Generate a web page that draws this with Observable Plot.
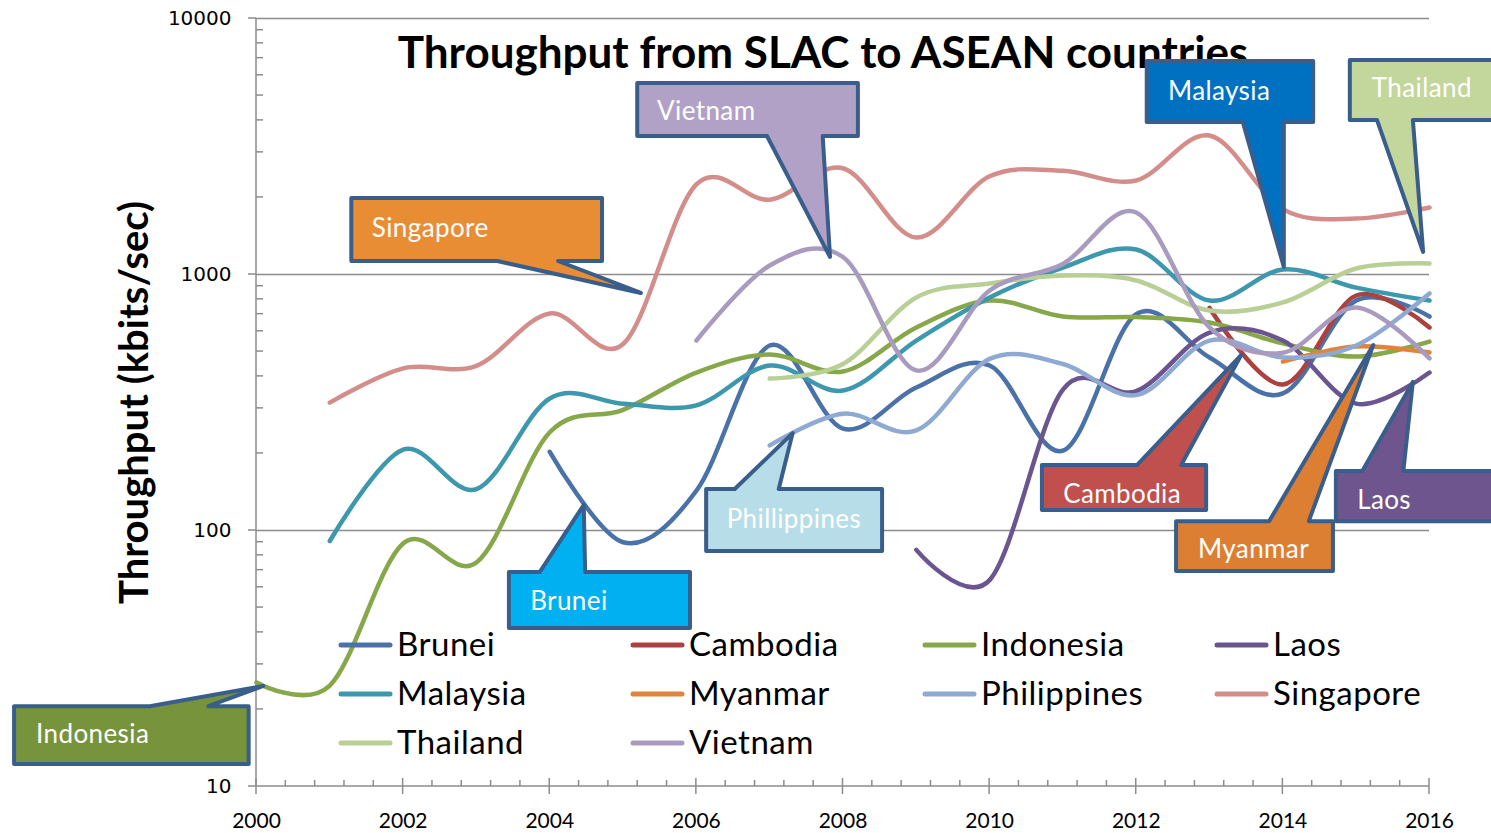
<!DOCTYPE html>
<html>
<head>
<meta charset="utf-8">
<script src="https://cdn.jsdelivr.net/npm/d3@7"></script>
<script src="https://cdn.jsdelivr.net/npm/@observablehq/plot@0.6"></script>
<style>
html, body { margin: 0; padding: 0; background: #fff; overflow: hidden; }
#chart { width: 1491px; height: 833px; }
</style>
</head>
<body>
<div id="chart"></div>
<script>
// ---------- data ----------
const years = d3.range(2000, 2017);
const countries = ["Brunei", "Cambodia", "Indonesia", "Laos", "Malaysia", "Myanmar", "Philippines", "Singapore", "Thailand", "Vietnam"];
const colors = ["#4A72A8", "#AC423F", "#87A84A", "#6B5590", "#3D98AE", "#E0843A", "#8FAAD2", "#D38E8C", "#B8CF95", "#A99BC0"];

// throughput (kbits/sec), one value per year 2000..2016, null = no data
const brunei      = [null, null, null, null, 203, 90, 143, 528, 250, 362, 441, 205, 700, 474, 343, 791, 685];
const cambodia    = [null, null, null, null, null, null, null, null, null, null, null, null, null, 740, 372, 828, 621];
const indonesia   = [25.5, 24.8, 89, 75, 242, 296, 414, 487, 418, 621, 791, 685, 682, 649, 538, 478, 547];
const laos        = [null, null, null, null, null, null, null, null, null, 84, 64, 355, 350, 593, 552, 313, 414];
const malaysia    = [null, 91, 207, 145, 328, 313, 308, 441, 352, 552, 813, 1065, 1252, 791, 1046, 889, 791];
const myanmar     = [null, null, null, null, null, null, null, null, null, null, null, null, null, null, 457, 523, 496];
const philippines = [null, null, null, null, null, null, null, 215, 286, 246, 468, 447, 338, 552, 474, 528, 843];
const singapore   = [null, 316, 430, 440, 704, 535, 2250, 1960, 2600, 1395, 2420, 2540, 2330, 3490, 1800, 1655, 1827];
const thailand    = [null, null, null, null, null, null, null, 392, 447, 813, 923, 991, 948, 723, 778, 1055, 1104];
const vietnam     = [null, null, null, null, null, null, 552, 1084, 1170, 422, 866, 1100, 1746, 621, 495, 743, 470];

const series = [brunei, cambodia, indonesia, laos, malaysia, myanmar, philippines, singapore, thailand, vietnam];

const xTicks = d3.range(2000, 2017, 2);
const yTicks = [10, 100, 1000, 10000];
const gridValues = [100, 1000, 10000];

const titleText = "Throughput from SLAC to ASEAN countries";
const yLabelText = "Throughput (kbits/sec)";

// call-out annotations, in data coordinates (year, kbits/sec)
const callouts = [
  {label: "Singapore",    fill: "#E98D35", box: [2001.30, 2004.72, 1980, 1124], side: "bottom", base: [2003.29, 2004.12], tip: [2005.25, 843],  text: [2001.58, 1395]},
  {label: "Vietnam",      fill: "#B2A1C7", box: [2005.20, 2008.21, 5570, 3460], side: "bottom", base: [2006.97, 2007.73], tip: [2007.83, 1165], text: [2005.47, 4000]},
  {label: "Malaysia",     fill: "#0070C0", box: [2012.15, 2014.42, 6790, 3925], side: "bottom", base: [2013.46, 2014.02], tip: [2014.02, 1065], text: [2012.44, 4783]},
  {label: "Thailand",     fill: "#C3D69B", box: [2014.92, 2016.97, 6855, 3998], side: "bottom", base: [2015.29, 2015.78], tip: [2015.92, 1219], text: [2015.22, 4910]},
  {label: "Brunei",       fill: "#00B0F0", box: [2003.45, 2005.92, 68.5, 41.4], side: "top",    base: [2003.87, 2004.49], tip: [2004.47, 125.2], text: [2003.74, 48.7]},
  {label: "Phillippines", fill: "#B7DDE8", box: [2006.14, 2008.54, 144.6, 82.8], side: "top",   base: [2006.53, 2007.13], tip: [2007.32, 239],  text: [2006.42, 101.8]},
  {label: "Cambodia",     fill: "#C0504D", box: [2010.72, 2012.96, 179.5, 119.7], side: "top",  base: [2012.02, 2012.62], tip: [2013.44, 483],  text: [2011.01, 127.5]},
  {label: "Myanmar",      fill: "#DD7F33", box: [2012.55, 2014.69, 108.3, 69.2], side: "top",   base: [2013.82, 2014.36], tip: [2015.24, 528],  text: [2012.85, 77.8]},
  {label: "Laos",         fill: "#6E558E", box: [2014.73, 2016.97, 170, 108.3], side: "top",    base: [2015.09, 2015.65], tip: [2015.78, 379],  text: [2015.02, 120.8]},
  {label: "Indonesia",    fill: "#77933C", box: [1996.70, 1999.90, 20.5, 12.2], side: "top",    base: [1998.55, 1999.35], tip: [2000.10, 24.6], text: [1997.00, 14.7]}
];

// ---------- table ----------
const table = [];
series.forEach((vals, si) => vals.forEach((v, yi) => {
  if (v != null) table.push({country: countries[si], year: years[yi], value: v});
}));

const AXIS = "#8C8C8C";
const FONT = "Lato, 'Open Sans', sans-serif";

// ---------- custom marks ----------
function axisTicks(index, {x, y}) {
  const g = d3.create("svg:g").attr("stroke", AXIS).attr("stroke-width", 1.5).attr("fill", "none");
  const y0 = y(10), x0 = x(2000);
  g.append("line").attr("x1", x0).attr("x2", x0).attr("y1", y(10000)).attr("y2", y0);
  g.append("line").attr("x1", x0).attr("x2", x(2016)).attr("y1", y0).attr("y2", y0);
  for (const yr of xTicks) {
    g.append("line").attr("x1", x(yr)).attr("x2", x(yr)).attr("y1", y0 - 8).attr("y2", y0 + 8);
  }
  for (let i = 1; i < 40; i++) {
    if (i % 5 === 0) continue;
    const yr = 2000 + i * 0.4;
    g.append("line").attr("x1", x(yr)).attr("x2", x(yr)).attr("y1", y0 - 6).attr("y2", y0);
  }
  for (const v of yTicks) {
    g.append("line").attr("x1", x0 - 8).attr("x2", x0).attr("y1", y(v)).attr("y2", y(v));
  }
  for (const d of [10, 100, 1000]) {
    for (let k = 2; k <= 9; k++) {
      g.append("line").attr("x1", x0).attr("x2", x0 + 7).attr("y1", y(d * k)).attr("y2", y(d * k));
    }
  }
  return g.node();
}

function legendMark() {
  const g = d3.create("svg:g").attr("text-anchor", "start");
  const colX = [339, 631, 923, 1215];
  const rowY = [645, 694, 743];
  countries.forEach((c, i) => {
    const cx = colX[i % 4], cy = rowY[Math.floor(i / 4)];
    g.append("line").attr("x1", cx + 2).attr("x2", cx + 51).attr("y1", cy).attr("y2", cy)
      .attr("stroke", colors[i]).attr("stroke-width", 5).attr("stroke-linecap", "round");
    g.append("text").attr("x", cx + 58).attr("y", cy + 11).attr("text-anchor", "start")
      .attr("font-family", FONT).attr("font-size", 33).attr("letter-spacing", "0.5px")
      .attr("fill", "#000").text(c);
  });
  return g.node();
}

function calloutMark(index, {x, y}) {
  const g = d3.create("svg:g").attr("text-anchor", "start");
  for (const c of callouts) {
    const xL = x(c.box[0]), xR = x(c.box[1]), yT = y(c.box[2]), yB = y(c.box[3]);
    const b0 = x(c.base[0]), b1 = x(c.base[1]);
    const tx = x(c.tip[0]), ty = y(c.tip[1]);
    let d;
    if (c.side === "bottom") {
      d = `M${xL},${yT}H${xR}V${yB}H${b1}L${tx},${ty}L${b0},${yB}H${xL}Z`;
    } else {
      d = `M${xL},${yT}H${b0}L${tx},${ty}L${b1},${yT}H${xR}V${yB}H${xL}Z`;
    }
    g.append("path").attr("d", d).attr("fill", c.fill)
      .attr("stroke", "#3A5E8C").attr("stroke-width", 4).attr("stroke-linejoin", "round");
    g.append("text").attr("x", x(c.text[0])).attr("y", y(c.text[1])).attr("text-anchor", "start")
      .attr("font-family", FONT).attr("font-size", 26).attr("letter-spacing", "0.4px")
      .attr("fill", "#fff").text(c.label);
  }
  return g.node();
}

// ---------- plot ----------
const chart = Plot.plot({
  width: 1491,
  height: 833,
  marginLeft: 256,
  marginRight: 62,
  marginTop: 18,
  marginBottom: 47,
  style: {fontFamily: FONT, background: "#fff", overflow: "hidden"},
  x: {domain: [2000, 2016]},
  y: {type: "log", domain: [10, 10000]},
  color: {domain: countries, range: colors},
  marks: [
    Plot.ruleY(gridValues, {stroke: AXIS, strokeWidth: 1.5}),
    axisTicks,
    Plot.axisY({ticks: yTicks, tickSize: 0, tickPadding: 25, tickFormat: d => String(d), fontSize: 20, fontFamily: "DejaVu Sans", label: null}),
    Plot.axisX({ticks: xTicks, tickSize: 0, tickPadding: 27, tickFormat: d => String(d), fontSize: 21, fontFamily: FONT, label: null, style: {letterSpacing: "1px"}}),
    Plot.text([titleText], {frameAnchor: "top", dx: -20, dy: 49, lineAnchor: "bottom", fontSize: 44, fontWeight: "bold", fontFamily: FONT, fill: "#000"}),
    Plot.text([yLabelText], {frameAnchor: "left", dx: -109, rotate: -90, lineAnchor: "bottom", textAnchor: "middle", fontSize: 40, fontWeight: "bold", fontFamily: FONT, fill: "#000"}),
    Plot.line(table, {x: "year", y: "value", stroke: "country", z: "country", curve: "cardinal", tension: 0, strokeWidth: 4.5, strokeLinecap: "round", strokeLinejoin: "round"}),
    legendMark,
    calloutMark
  ]
});

document.getElementById("chart").appendChild(chart);
</script>
</body>
</html>
